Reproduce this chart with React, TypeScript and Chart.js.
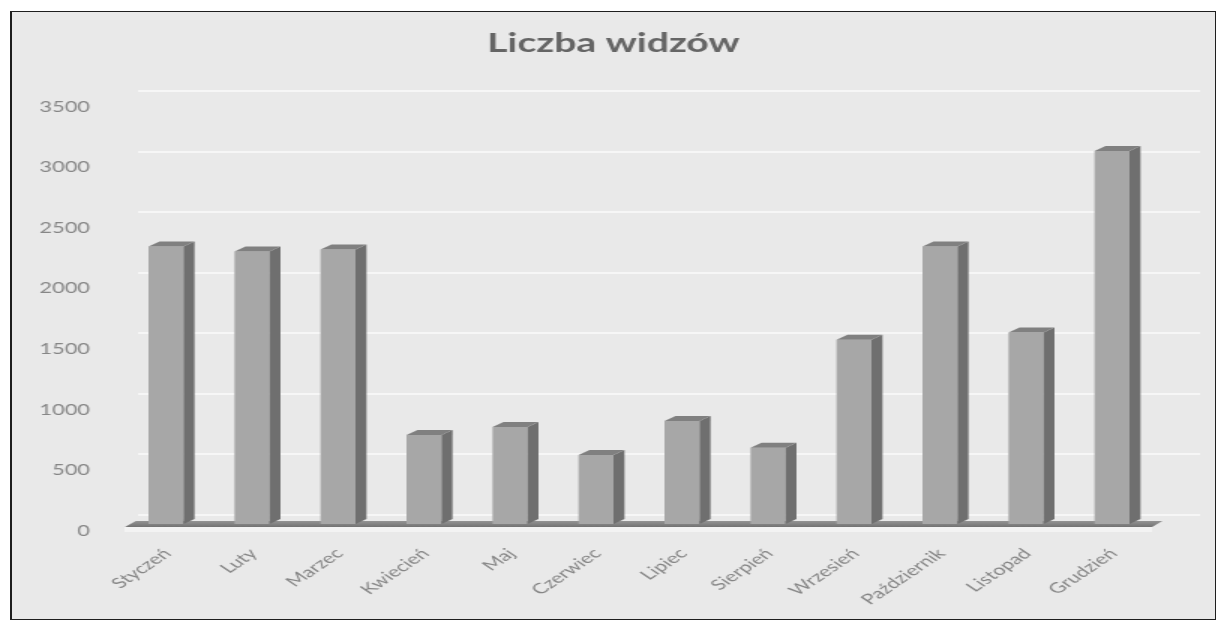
import React, { useEffect, useRef } from "react";
import { Chart, registerables } from "chart.js";

Chart.register(...registerables);

const TITLE = "Liczba widzów";
const MONTHS = [
  "Styczeń",
  "Luty",
  "Marzec",
  "Kwiecień",
  "Maj",
  "Czerwiec",
  "Lipiec",
  "Sierpień",
  "Wrzesień",
  "Październik",
  "Listopad",
  "Grudzień",
];
const VIEWERS = [2290, 2250, 2265, 735, 800, 570, 850, 630, 1520, 2290, 1580, 3080];
const Y_MIN = 0;
const Y_MAX = 3500;
const Y_STEP = 500;

// The original picture is a horizontally stretched spreadsheet chart:
// the chart is drawn in a narrower frame and stretched by this factor.
const STRETCH = 1.5;
const PAGE_W = 1218;
const PAGE_H = 622;
const FRAME_W = PAGE_W / STRETCH;

const DEPTH_X = 11 / STRETCH;
const DEPTH_Y = 5;
const FONT = "Lato, 'Open Sans', sans-serif";

const threeDPlugin = {
  id: "threeD",
  beforeDatasetsDraw(chart: any) {
    const { ctx, chartArea, scales } = chart;
    const y = scales.y;
    ctx.save();
    // back-wall gridlines
    ctx.strokeStyle = "#f6f6f6";
    ctx.lineWidth = 2;
    for (let v = Y_MIN; v <= Y_MAX; v += Y_STEP) {
      const py = Math.round(y.getPixelForValue(v)) - 9;
      ctx.beginPath();
      ctx.moveTo(chartArea.left + 10, py);
      ctx.lineTo(FRAME_W - 12, py);
      ctx.stroke();
    }
    // floor
    const y0 = y.getPixelForValue(0);
    const l = chartArea.left;
    const r = chartArea.right;
    ctx.fillStyle = "#f3f3f3";
    ctx.fillRect(l + 1, y0 + 3, r - l - 3, 5);
    const g = ctx.createLinearGradient(0, y0 - 4, 0, y0 + 3);
    g.addColorStop(0, "#9a9a9a");
    g.addColorStop(1, "#727272");
    ctx.fillStyle = g;
    ctx.beginPath();
    ctx.moveTo(l + 1.3, y0 + 3);
    ctx.lineTo(r - 2, y0 + 3);
    ctx.lineTo(r + 5, y0 - 3);
    ctx.lineTo(l + 8.5, y0 - 3);
    ctx.closePath();
    ctx.fill();
    ctx.restore();
  },
  afterDatasetsDraw(chart: any) {
    const { ctx } = chart;
    const meta = chart.getDatasetMeta(0);
    ctx.save();
    meta.data.forEach((bar: any) => {
      const { x, y, base, width } = bar.getProps(["x", "y", "base", "width"], true);
      const left = x - width / 2;
      const right = x + width / 2;
      // side face
      ctx.fillStyle = "#6f6f6f";
      ctx.beginPath();
      ctx.moveTo(right, y);
      ctx.lineTo(right + DEPTH_X, y - DEPTH_Y);
      ctx.lineTo(right + DEPTH_X, base - DEPTH_Y);
      ctx.lineTo(right, base);
      ctx.closePath();
      ctx.fill();
      // top face
      ctx.fillStyle = "#808080";
      ctx.beginPath();
      ctx.moveTo(left, y);
      ctx.lineTo(right, y);
      ctx.lineTo(right + DEPTH_X, y - DEPTH_Y);
      ctx.lineTo(left + DEPTH_X, y - DEPTH_Y);
      ctx.closePath();
      ctx.fill();
    });
    ctx.restore();
  },
};

export default function App() {
  const ref = useRef<HTMLCanvasElement>(null);

  useEffect(() => {
    const chart = new Chart(ref.current as HTMLCanvasElement, {
      type: "bar",
      data: {
        labels: MONTHS,
        datasets: [
          {
            label: TITLE,
            data: VIEWERS,
            backgroundColor: "#a7a7a7",
            borderWidth: 0,
            barPercentage: 35 / 86,
            categoryPercentage: 1,
          },
        ],
      },
      options: {
        animation: false,
        responsive: true,
        maintainAspectRatio: false,
        layout: { padding: { left: 6, right: 0, top: 0, bottom: 0 } },
        plugins: {
          legend: { display: false },
          tooltip: { enabled: false },
          title: {
            display: true,
            text: TITLE,
            color: "#656565",
            font: { family: FONT, size: 26, weight: "bold" },
            padding: { top: 28.4, bottom: 40.4 },
          },
        },
        scales: {
          x: {
            grid: { display: false, drawTicks: false },
            border: { display: false },
            ticks: {
              color: "#868686",
              font: { family: FONT, size: 14.5 },
              minRotation: 45,
              maxRotation: 45,
              padding: 21,
              labelOffset: 1,
              autoSkip: false,
            },
            afterFit: (s: any) => {
              s.height = 98;
            },
          },
          y: {
            min: Y_MIN,
            max: Y_MAX,
            grid: { display: false, drawTicks: false },
            border: { display: false },
            ticks: {
              stepSize: Y_STEP,
              color: "#868686",
              font: { family: FONT, size: 14.5 },
              padding: 22,
              labelOffset: 7,
              callback: (v: any) => String(v),
            },
            afterFit: (s: any) => {
              s.width = 76;
            },
          },
          spacer: {
            type: "linear",
            position: "right",
            display: true,
            grid: { display: false, drawTicks: false },
            border: { display: false },
            ticks: { display: false },
            afterFit: (s: any) => {
              s.width = 42;
            },
          },
        },
      },
      plugins: [threeDPlugin],
    } as any);
    return () => chart.destroy();
  }, []);

  return (
    <div style={{ position: "fixed", left: 0, top: 0, width: PAGE_W, height: PAGE_H, background: "#ffffff" }}>
      <div
        style={{
          position: "absolute",
          left: 10,
          top: 11,
          width: 1203,
          height: 607,
          borderStyle: "solid",
          borderColor: "#1e1e1e",
          borderWidth: "1.5px 1.5px 1.5px 2px",
          background: "#e9e9e9",
        }}
      />
      <div
        style={{
          position: "absolute",
          left: 0,
          top: 0,
          width: FRAME_W,
          height: PAGE_H,
          transform: `scaleX(${STRETCH})`,
          transformOrigin: "0 0",
        }}
      >
        <canvas ref={ref} />
      </div>
    </div>
  );
}
